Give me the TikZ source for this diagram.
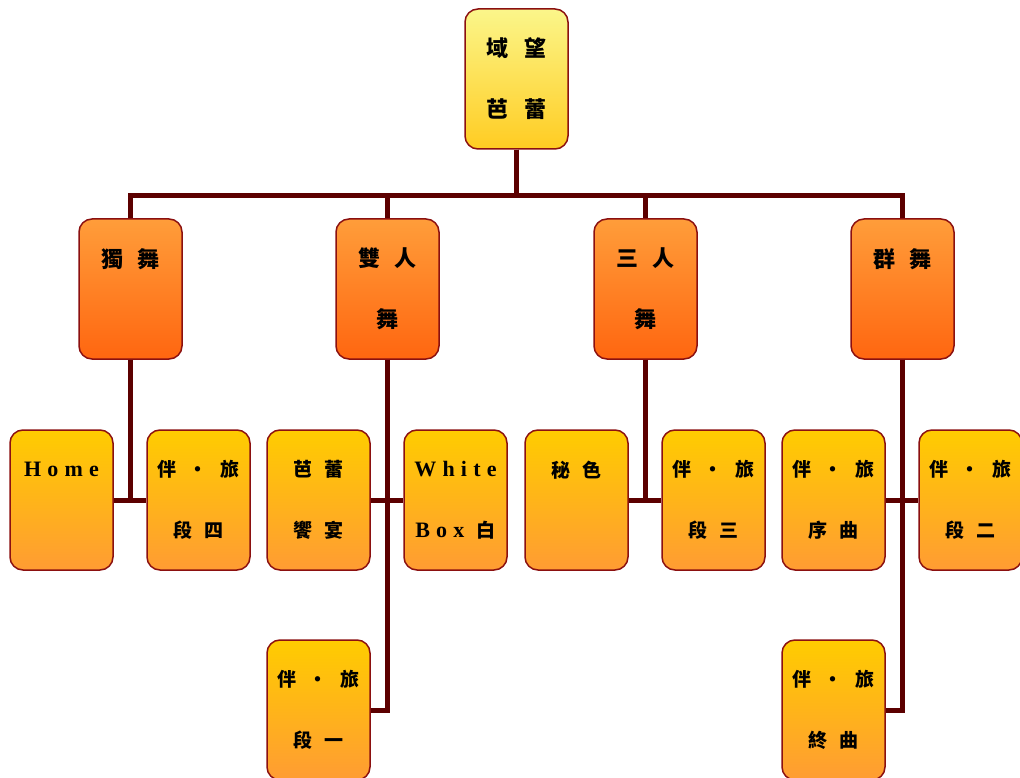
\documentclass[tikz,border=0pt]{standalone}
\usepackage{fontspec}
\setmainfont{Noto Sans CJK TC}
\newfontfamily\lat{Liberation Serif}
\usepackage{tikz}
\definecolor{rootlight}{HTML}{FBF68A}
\definecolor{rootdark}{HTML}{FFCC22}
\definecolor{dancelight}{HTML}{FF9D3A}
\definecolor{dancedark}{HTML}{FF6610}
\definecolor{piecelight}{HTML}{FFCC00}
\definecolor{piecedark}{HTML}{FF9C33}
\definecolor{boxedge}{HTML}{8B1010}
\definecolor{linkred}{HTML}{5C0000}
\newcommand{\latin}[1]{{\lat\fontsize{22}{61}\selectfont\spaceskip=0.28em #1}}

\begin{document}
\begin{tikzpicture}[x=1pt,y=1pt]
      \tikzstyle{box}=[rectangle,rounded corners=13pt,draw=boxedge,line width=1.5pt,minimum width=103pt,minimum height=140pt,align=center,inner sep=0pt]
      \tikzstyle{head}=[box,top color=rootlight,bottom color=rootdark,font={\bfseries\fontsize{22}{61}\selectfont\spaceskip=0.7em}]
      \tikzstyle{dance}=[box,top color=dancelight,bottom color=dancedark,font={\bfseries\fontsize{22}{61}\selectfont\spaceskip=0.65em}]
      \tikzstyle{piece}=[box,top color=piecelight,bottom color=piecedark,font={\bfseries\fontsize{19}{61}\selectfont\spaceskip=0.65em}]
      \tikzstyle{link}=[draw=linkred,line width=5pt]
      \useasboundingbox (0,0) rectangle (1020,-778);
      % top
      \node[head] (root) at (516.5,-79) {域 望\\芭 蕾};
      % dances
      \node[dance] (solo) at (130.5,-289) {獨 舞\\~};
      \node[dance] (duo) at (387.5,-289) {雙 人\\舞};
      \node[dance] (trio) at (645.5,-289) {三 人\\舞};
      \node[dance] (group) at (902.5,-289) {群 舞\\~};
      % pieces
      \node[piece] (home) at (61.5,-500) {\latin{H o m e}\\~};
      \node[piece] (part4) at (198.5,-500) {伴 · 旅\\段 四};
      \node[piece] (feast) at (318.5,-500) {芭 蕾\\饗 宴};
      \node[piece] (wbox) at (455.5,-500) {\latin{W h i t e}\\\latin{B o x} 白};
      \node[piece] (part1) at (318.5,-710) {伴 · 旅\\段 一};
      \node[piece] (secret) at (576.5,-500) {秘 色\\~};
      \node[piece] (part3) at (713.5,-500) {伴 · 旅\\段 三};
      \node[piece] (overture) at (833.5,-500) {伴 · 旅\\序 曲};
      \node[piece] (part2) at (970.5,-500) {伴 · 旅\\段 二};
      \node[piece] (finale) at (833.5,-710) {伴 · 旅\\終 曲};
      % links
      \foreach \d in {solo,duo,trio,group}
        \draw[link] (root.south) -- ++(0,-46) -| (\d.north);
      \draw[link] (solo.south) |- (home.east);
      \draw[link] (solo.south) |- (part4.west);
      \draw[link] (duo.south) |- (feast.east);
      \draw[link] (duo.south) |- (wbox.west);
      \draw[link] (duo.south) |- (part1.east);
      \draw[link] (trio.south) |- (secret.east);
      \draw[link] (trio.south) |- (part3.west);
      \draw[link] (group.south) |- (overture.east);
      \draw[link] (group.south) |- (part2.west);
      \draw[link] (group.south) |- (finale.east);
\end{tikzpicture}
\end{document}
